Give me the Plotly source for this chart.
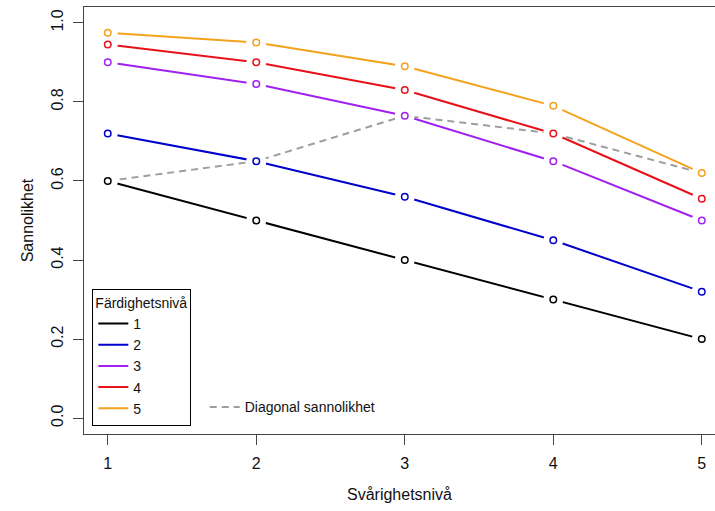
import plotly.graph_objects as go

# Difficulty levels on the x axis
svarighet = [1, 2, 3, 4, 5]

# Success probability per skill level (one list per level)
niva_1 = [0.60, 0.50, 0.40, 0.30, 0.20]
niva_2 = [0.72, 0.65, 0.56, 0.45, 0.32]
niva_3 = [0.90, 0.845, 0.765, 0.65, 0.50]
niva_4 = [0.945, 0.90, 0.83, 0.72, 0.555]
niva_5 = [0.975, 0.95, 0.89, 0.79, 0.62]

niva_namn = ["1", "2", "3", "4", "5"]
niva_data = [niva_1, niva_2, niva_3, niva_4, niva_5]
farger = ["#000000", "#0000CD", "#A020F0", "#E8111A", "#F4A21C"]

# Diagonal: skill level equal to difficulty level
diagonal = [niva_data[i][i] for i in range(len(svarighet))]

y_ticks = [0.0, 0.2, 0.4, 0.6, 0.8, 1.0]
y_ticktext = [f"{v:.1f}" for v in y_ticks]

x_range = [0.84, 5.089]
y_range = [-0.04, 1.04]

diag_line = dict(color="#9E9E9E", width=2, dash="7px,5px")
halo = dict(symbol="circle", size=20, color="white", line=dict(width=0))

fig = go.Figure()

# Each line carries white discs at its points, so the line is broken
# around every point (markers are drawn above the line in a trace)
for vals, col in zip(niva_data, farger):
    fig.add_trace(go.Scatter(
        x=svarighet, y=vals, mode="lines+markers", showlegend=False,
        line=dict(color=col, width=2), marker=halo, hoverinfo="skip"))

fig.add_trace(go.Scatter(
    x=svarighet, y=diagonal, mode="lines+markers", showlegend=False,
    line=diag_line, marker=halo, hoverinfo="skip"))

# Open circles on top
for namn, vals, col in zip(niva_namn, niva_data, farger):
    fig.add_trace(go.Scatter(
        x=svarighet, y=vals, mode="markers", showlegend=False,
        marker=dict(symbol="circle-open", size=6.5, color=col,
                    line=dict(color=col, width=1.5)),
        name=namn))

# Legend entries (line samples only)
for namn, col in zip(niva_namn, farger):
    fig.add_trace(go.Scatter(
        x=[None], y=[None], mode="lines", name=namn,
        line=dict(color=col, width=2), legend="legend"))
fig.add_trace(go.Scatter(
    x=[None], y=[None], mode="lines", name="Diagonal sannolikhet",
    line=diag_line, legend="legend2"))

axis_col = "#444444"
font_family = "Liberation Sans, Arial, sans-serif"

fig.update_layout(
    width=715, height=511,
    margin=dict(l=84, r=0, t=7, b=77),
    paper_bgcolor="white", plot_bgcolor="white",
    font=dict(family=font_family, color="#111111", size=16),
    xaxis=dict(
        range=x_range, tickvals=svarighet,
        ticks="outside", ticklen=10, tickcolor=axis_col, tickwidth=1,
        showline=True, linecolor=axis_col, linewidth=1, mirror=True,
        showgrid=False, zeroline=False, ticklabelstandoff=5,
        tickfont=dict(size=16),
        title=dict(text="Svårighetsnivå", font=dict(size=16), standoff=17)),
    yaxis=dict(
        range=y_range, tickvals=y_ticks, ticktext=y_ticktext,
        tickangle=-90,
        ticks="outside", ticklen=10, tickcolor=axis_col, tickwidth=1,
        showline=True, linecolor=axis_col, linewidth=1, mirror=False,
        showgrid=False, zeroline=False, ticklabelstandoff=4,
        tickfont=dict(size=16),
        title=dict(text="Sannolikhet", font=dict(size=16), standoff=10)),
    legend=dict(
        x=0.0132, y=0.0194, xanchor="left", yanchor="bottom",
        bordercolor="#000000", borderwidth=1, bgcolor="white",
        font=dict(size=14),
        title=dict(text="Färdighetsnivå", side="top", font=dict(size=14)),
        tracegroupgap=0),
    legend2=dict(
        x=0.1913, y=0.025, xanchor="left", yanchor="bottom",
        borderwidth=0, bgcolor="rgba(0,0,0,0)",
        font=dict(size=14)),
    showlegend=True,
)

fig.write_html("out.html")
